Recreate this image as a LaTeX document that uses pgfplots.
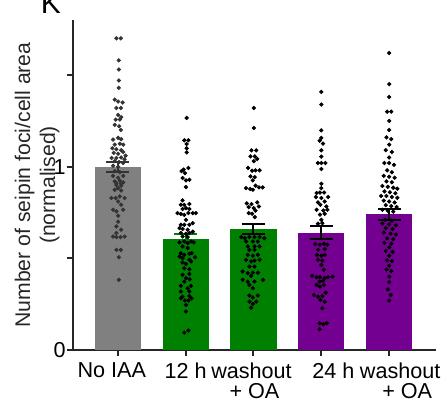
\documentclass[border=0pt]{standalone}
\usepackage{pgfplots}
\pgfplotsset{compat=1.18}
\usepackage{fontspec}
\setmainfont{Liberation Sans}

\definecolor{barGray}{RGB}{128,128,128}
\definecolor{barGreen}{RGB}{0,128,0}
\definecolor{barPurple}{RGB}{115,0,145}
\definecolor{dotGray}{RGB}{51,51,51}

% shift a tick label line sideways by #1
\newcommand{\shl}[2]{\makebox[0pt]{\hspace*{#1}\hspace*{#1}#2}}

\begin{document}
\begin{tikzpicture}
\begin{axis}[
    name=ax,
    scale only axis,
    width=181.5pt, height=165pt,
    xmin=-0.66, xmax=4.69,
    ymin=0, ymax=1.80,
    axis x line*=bottom,
    axis y line*=left,
    axis line style={line width=1pt, black!85},
    xtick={0,1,2,3,4},
    xticklabels={\shl{-3pt}{No IAA}, 12 h, \shl{-1pt}{washout}\\\shl{0.5pt}{+ OA},
                 \shl{6pt}{24 h}, \shl{5.5pt}{washout}\\\shl{9pt}{+ OA}},
    xticklabel style={align=center, font=\fontsize{10.8}{10}\selectfont},
    ytick={0,1},
    minor ytick={0.5,1.5},
    tick align=outside,
    major tick length=3pt, minor tick length=3pt,
    tick style={line width=1pt, black!85},
    /pgf/number format/assume math mode=true,
    yticklabel style={font=\fontsize{10.8}{11}\selectfont, inner xsep=0.5pt},
    ylabel={Number of seipin foci/cell area\\(normalised)},
    ylabel style={align=center, font=\fontsize{10.6}{12.5}\selectfont, text=black!85,
                  at={(axis description cs:-0.036,0.5)}, anchor=south, inner sep=0pt},
    clip=false,
]

% bars with SEM
\addplot[ybar, bar shift=0pt, bar width=0.68, fill=barGray, draw=none,
    error bars/.cd, y dir=both, y explicit,
    error bar style={line width=1pt, dotGray},
    error mark options={rotate=90, mark size=5.75pt, line width=1pt, dotGray}]
    coordinates {(0,1.0) +- (0,0.027)};
\addplot[ybar, bar shift=0pt, bar width=0.68, fill=barGreen, draw=none,
    error bars/.cd, y dir=both, y explicit,
    error bar style={line width=1pt, barGreen},
    error mark options={rotate=90, mark size=5.75pt, line width=1pt, barGreen}]
    coordinates {(1,0.607) +- (0,0.027)};
\addplot[ybar, bar shift=0pt, bar width=0.68, fill=barGreen, draw=none,
    error bars/.cd, y dir=both, y explicit,
    error bar style={line width=1pt, black},
    error mark options={rotate=90, mark size=5.75pt, line width=1pt, black}]
    coordinates {(2,0.661) +- (0,0.027)};
\addplot[ybar, bar shift=0pt, bar width=0.68, fill=barPurple, draw=none,
    error bars/.cd, y dir=both, y explicit,
    error bar style={line width=1pt, black},
    error mark options={rotate=90, mark size=5.75pt, line width=1pt, black}]
    coordinates {(3,0.639) +- (0,0.036)};
\addplot[ybar, bar shift=0pt, bar width=0.68, fill=barPurple, draw=none,
    error bars/.cd, y dir=both, y explicit,
    error bar style={line width=1pt, black},
    error mark options={rotate=90, mark size=5.75pt, line width=1pt, black}]
    coordinates {(4,0.741) +- (0,0.03)};

% individual cells
\addplot[only marks, mark=*, mark size=0.85pt, dotGray] table {
x y
-0.02 1.70
0.045 1.70
0.015 1.58
0.015 1.53
0.015 1.47
0.015 1.43
-0.045 1.366
0.005 1.355
0.07 1.35
-0.02 1.32
0.045 1.32
0.005 1.282
0.05 1.27
-0.03 1.257
0.03 1.257
-0.045 1.228
0.02 1.22
0.045 1.20
-0.07 1.148
0.005 1.157
0.05 1.15
-0.045 1.12
0.03 1.125
0.08 1.12
-0.08 1.10
-0.02 1.095
0.05 1.09
-0.06 1.075
0.005 1.07
0.08 1.08
0.115 1.06
-0.09 1.047
-0.02 1.047
0.05 1.05
0.1 1.04
-0.045 1.03
0.02 1.025
0.08 1.02
-0.07 1.005
0.005 1.0
-0.045 0.976
0.03 0.97
-0.07 0.95
0.005 0.94
0.08 0.95
-0.02 0.91
0.05 0.907
0.005 0.883
-0.045 0.92
0.03 0.923
0.08 0.914
-0.02 0.90
0.05 0.896
-0.045 0.874
0.05 0.87
-0.095 0.829
-0.03 0.829
0.03 0.838
0.1 0.829
0.005 0.81
0.05 0.792
-0.07 0.765
-0.02 0.756
0.08 0.765
0.005 0.732
0.005 0.70
-0.02 0.674
0.05 0.656
-0.02 0.638
-0.07 0.619
-0.02 0.616
0.04 0.616
0.1 0.619
-0.02 0.546
0.045 0.546
0.015 0.506
0.015 0.383
};

\addplot[only marks, mark=*, mark size=0.85pt, black] table {
x y
1.015 1.266
0.98 1.144
1.04 1.144
1.015 1.124
1.015 1.10
1.015 1.078
1.04 0.993
0.97 0.984
0.94 0.976
0.99 0.965
0.955 0.938
1.005 0.925
1.055 0.929
1.005 0.889
0.955 0.816
0.93 0.792
0.98 0.792
1.055 0.796
1.005 0.774
0.955 0.769
1.055 0.769
0.88 0.747
0.93 0.742
0.98 0.737
1.04 0.747
1.105 0.747
1.15 0.747
1.005 0.71
0.93 0.683
0.98 0.683
1.055 0.683
1.105 0.692
0.91 0.665
0.955 0.66
1.03 0.656
0.93 0.638
1.005 0.634
1.055 0.638
1.105 0.645
0.955 0.619
1.03 0.616
0.91 0.587
0.98 0.592
1.03 0.583
1.08 0.592
1.12 0.587
0.955 0.565
1.03 0.556
0.93 0.528
0.98 0.519
1.055 0.525
1.09 0.528
0.91 0.51
0.955 0.50
1.055 0.492
1.14 0.506
0.955 0.477
1.005 0.47
1.08 0.483
0.98 0.446
1.055 0.441
0.955 0.41
1.055 0.415
1.005 0.392
1.06 0.386
0.98 0.373
0.93 0.35
1.03 0.337
1.08 0.35
0.93 0.319
1.055 0.319
0.955 0.291
1.055 0.295
0.93 0.282
0.99 0.27
1.04 0.27
1.09 0.282
1.005 0.246
1.005 0.21
0.98 0.095
1.04 0.106
};

\addplot[only marks, mark=*, mark size=0.85pt, black] table {
x y
2.005 1.32
2.005 1.211
1.97 1.089
2.04 1.089
1.955 1.056
2.02 1.056
2.055 1.042
2.005 1.03
1.92 0.993
1.98 0.978
2.03 0.98
2.09 0.98
1.955 0.947
2.02 0.943
1.99 0.925
1.89 0.883
1.95 0.878
1.99 0.874
2.03 0.896
2.08 0.887
2.135 0.887
1.90 0.80
1.97 0.796
2.055 0.805
1.93 0.78
2.005 0.774
2.08 0.783
2.03 0.76
1.93 0.747
1.98 0.743
2.02 0.725
1.82 0.616
1.87 0.61
1.94 0.616
2.015 0.616
2.09 0.616
2.16 0.61
1.89 0.592
1.99 0.592
2.065 0.592
1.915 0.565
2.015 0.565
2.09 0.565
1.94 0.546
2.015 0.546
1.915 0.519
1.99 0.514
2.065 0.519
1.89 0.492
1.965 0.483
2.015 0.488
2.09 0.492
1.94 0.455
2.015 0.455
1.84 0.428
1.915 0.419
1.99 0.422
2.065 0.422
1.965 0.404
1.84 0.383
1.915 0.373
2.015 0.373
2.14 0.383
1.94 0.355
1.99 0.337
1.94 0.297
1.99 0.286
2.065 0.297
1.94 0.264
2.04 0.264
1.99 0.251
1.965 0.231
};

\addplot[only marks, mark=*, mark size=0.85pt, black] table {
x y
3.0 1.408
3.0 1.339
3.0 1.198
3.0 1.157
2.975 1.142
3.025 1.126
3.0 1.089
3.0 1.055
2.95 1.02
3.0 1.02
3.06 1.02
3.0 0.987
3.0 0.907
3.0 0.883
2.93 0.856
2.98 0.859
3.04 0.859
2.92 0.834
3.0 0.829
3.1 0.834
2.95 0.805
3.05 0.81
2.985 0.792
3.075 0.783
2.93 0.765
3.03 0.761
3.09 0.765
2.98 0.738
3.05 0.743
3.0 0.71
2.95 0.689
3.015 0.692
2.91 0.577
2.98 0.574
3.04 0.579
3.09 0.574
2.95 0.546
3.05 0.55
2.935 0.519
3.0 0.514
3.05 0.519
2.95 0.492
3.015 0.488
3.0 0.464
3.035 0.437
2.865 0.404
2.93 0.397
2.98 0.397
3.05 0.392
3.1 0.397
3.165 0.40
2.975 0.373
3.025 0.379
2.93 0.355
2.98 0.346
3.04 0.355
2.89 0.30
2.95 0.291
3.015 0.295
3.065 0.313
2.985 0.273
3.05 0.264
3.015 0.228
2.975 0.146
3.03 0.14
3.08 0.146
2.975 0.113
};

\addplot[only marks, mark=*, mark size=0.85pt, black] table {
x y
4.0 1.62
4.0 1.45
4.0 1.38
3.97 1.30
4.03 1.30
4.0 1.25
4.0 1.20
3.96 1.16
4.03 1.15
4.0 1.12
3.95 1.09
4.04 1.08
4.0 1.05
3.93 1.02
4.0 1.02
4.07 1.01
3.97 0.98
4.04 0.97
3.92 0.95
4.0 0.945
4.08 0.94
3.96 0.92
4.04 0.915
3.9 0.895
3.98 0.89
4.06 0.885
4.12 0.88
3.93 0.865
4.01 0.86
4.09 0.855
3.88 0.84
3.96 0.84
4.04 0.835
4.12 0.83
3.92 0.815
4.0 0.81
4.08 0.805
3.95 0.79
4.03 0.785
4.11 0.78
3.9 0.765
3.98 0.76
4.06 0.755
3.94 0.71
4.04 0.705
3.9 0.69
4.0 0.685
4.1 0.68
3.95 0.665
4.05 0.66
3.92 0.64
4.02 0.635
4.1 0.63
3.97 0.61
4.06 0.605
3.93 0.585
4.03 0.58
4.0 0.56
3.95 0.54
4.05 0.535
4.0 0.515
3.97 0.49
4.04 0.485
4.0 0.46
3.96 0.44
4.03 0.43
4.0 0.40
4.0 0.37
3.98 0.33
4.02 0.30
4.0 0.27
};

\end{axis}
\node[font=\fontsize{15}{15}\selectfont, anchor=base] at ([shift={(-11pt,168pt)}]ax.south west) {K};
\pgfresetboundingbox
\path[use as bounding box] ([shift={(-36.5pt,-25.5pt)}]ax.south west) rectangle ([shift={(185pt,175pt)}]ax.south west);
\end{tikzpicture}
\end{document}
